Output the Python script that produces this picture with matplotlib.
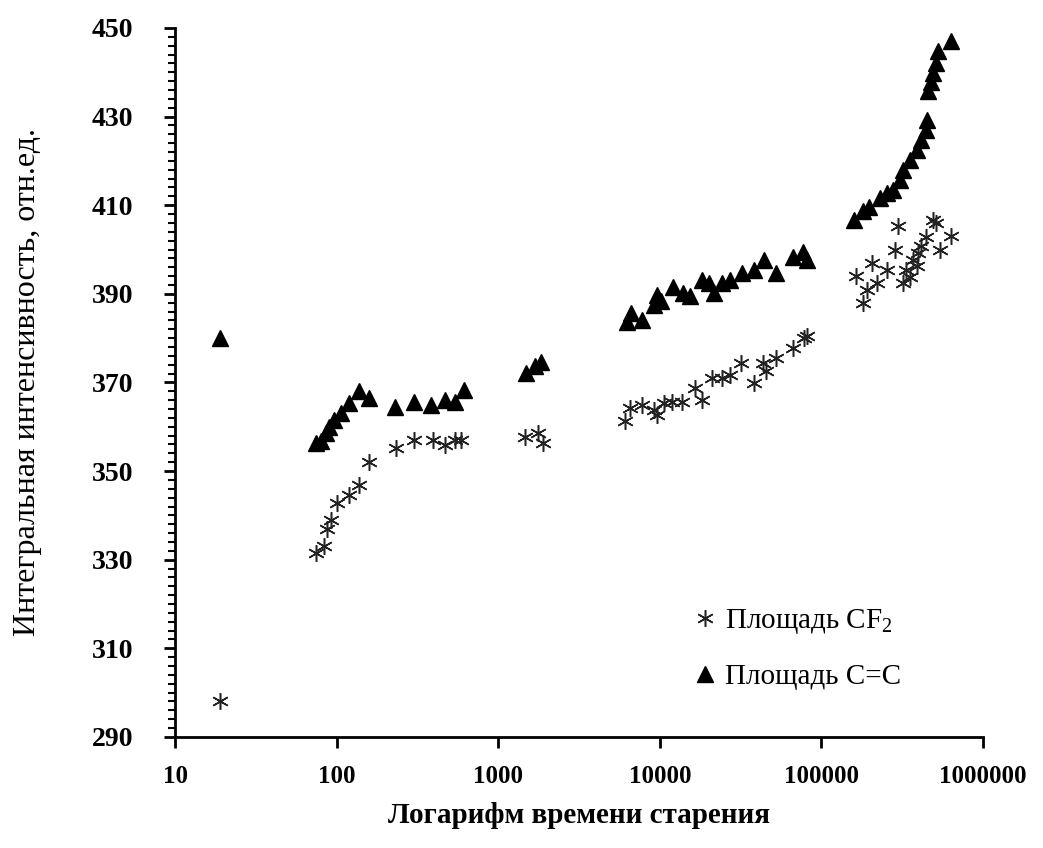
import matplotlib
matplotlib.use("Agg")
import matplotlib.pyplot as plt
import numpy as np
from matplotlib.ticker import FixedLocator, NullLocator

plt.rcParams['font.family'] = ['Liberation Serif', 'DejaVu Serif']
plt.rcParams['mathtext.fontset'] = 'custom'
plt.rcParams['mathtext.rm'] = 'Liberation Serif'

# Площадь CF2 (звёздочки)
cf2_t = [19, 74.8, 83.5, 87.5, 91.6, 101, 119, 138, 158, 233, 302, 392, 465, 536, 590,
         1455, 1765, 1900,
         6095, 6540, 7730, 9140, 9600, 10530, 11850, 13700, 16600, 18240, 20970, 24200,
         27300, 31600, 38300, 43300, 45400, 52500, 66900, 78000, 81900,
         163000, 180000, 190000, 205000, 222000, 253000, 285000, 296000, 320000, 335000,
         353000, 367000, 388000, 398000, 415000, 444000, 490000, 515000, 540000, 635000]
cf2_val = [298, 331.5, 333, 337, 339, 342.8, 344.6, 346.9, 352, 355.2, 356.9, 356.9, 355.9, 356.9, 356.9,
           357.8, 358.5, 356.3,
           361.2, 364.2, 365, 363.8, 362.7, 365.3, 365.7, 365.7, 368.7, 366, 371, 371,
           371.7, 374.4, 369.8, 374.4, 372.5, 375.5, 377.7, 380, 380.4,
           394, 387.9, 390.9, 397, 392.4, 395.4, 400, 405.2, 392.4, 395.4,
           393.9, 397.7, 396.2, 399.2, 400.7, 402.9, 406.7, 405.9, 400, 403]

# Площадь C=C (треугольники)
cc_t = [19, 74, 79.6, 85.5, 89, 96, 106, 119, 138, 158, 229, 302, 383, 465, 536, 612,
        1493, 1683, 1849,
        6240, 6650, 7800, 9130, 9600, 10200, 12100, 13900, 15300, 18200, 20000, 21500,
        24200, 27300, 32000, 38000, 43800, 52300, 66900, 77000, 81900,
        160000, 180000, 197000, 230000, 253000, 278000, 305000, 320000, 353000, 388000,
        415000, 444000, 450000, 455000, 478000, 490000, 515000, 525000, 635000]
cc_val = [380, 356.3, 356.7, 358.5, 360, 361.6, 363, 365.3, 368, 366.5, 364.4, 365.7, 365, 366, 365.7, 368.3,
          372.1, 373.6, 374.7,
          383.7, 385.6, 384.1, 387.5, 389.8, 388.3, 391.6, 390.2, 389.4, 393.2, 392.4, 390.2,
          392.4, 393.2, 394.7, 395.4, 397.7, 394.7, 398.4, 399.5, 397.7,
          406.7, 408.6, 409.7, 411.6, 412.7, 413.5, 415.7, 418, 420.3, 422.5,
          424.8, 427, 429.3, 435.7, 437.9, 439.8, 442, 444.7, 447]

x_ticks = [10, 100, 1000, 10000, 100000, 1000000]
y_ticks = np.arange(290, 451, 20)

fig = plt.figure(figsize=(10.43, 8.48), dpi=100)
ax = fig.add_axes([0.168, 0.131, 0.7745, 0.836])

ax.plot(cf2_t, cf2_val, linestyle='none', marker=(6, 2, 0), markersize=12,
        markeredgewidth=1.1, color='#222222', label='Площадь CF$_{2}$')
ax.plot(cc_t, cc_val, linestyle='none', marker='^', markersize=11,
        color='black', label='Площадь C=C')

ax.set_xscale('log')
ax.set_xlim(10, 1000000)
ax.set_ylim(290, 450)
ax.xaxis.set_major_locator(FixedLocator(x_ticks))
ax.xaxis.set_minor_locator(NullLocator())
ax.set_xticklabels([str(v) for v in x_ticks])
ax.yaxis.set_major_locator(FixedLocator(y_ticks))
ax.yaxis.set_minor_locator(FixedLocator(np.arange(290, 451, 2)))

for s in ['top', 'right']:
    ax.spines[s].set_visible(False)
for s in ['left', 'bottom']:
    ax.spines[s].set_linewidth(2)

ax.tick_params(axis='both', which='major', direction='out', length=8, width=2)
ax.tick_params(axis='x', which='major', labelsize=18, pad=12)
ax.tick_params(axis='y', which='major', labelsize=20, pad=22)
ax.tick_params(axis='y', which='minor', direction='out', length=5, width=1.5)
for lab in ax.get_xticklabels() + ax.get_yticklabels():
    lab.set_fontweight('bold')

ax.set_xlabel('Логарифм времени старения', fontsize=21, fontweight='bold', labelpad=10)
ax.set_ylabel('Интегральная интенсивность, отн.ед.', fontsize=23, labelpad=36)

ax.legend(loc='upper left', bbox_to_anchor=(0.63, 0.2), frameon=False, fontsize=21,
          handlelength=0.6, handletextpad=0.4, borderaxespad=0, labelspacing=0.95)

fig.savefig('out.png', dpi=100)
